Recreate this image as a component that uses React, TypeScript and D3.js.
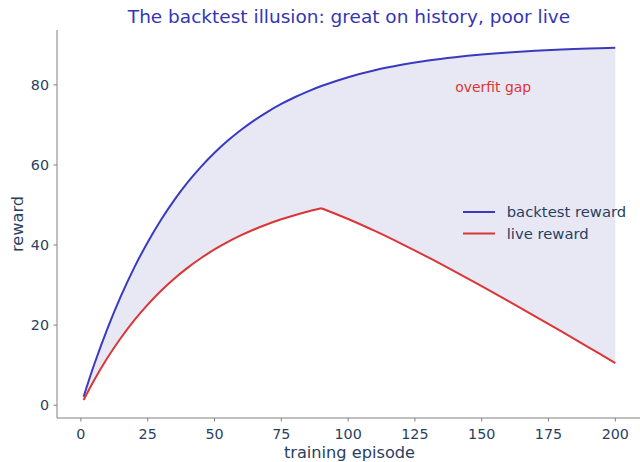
import React from "react";
import * as d3 from "d3";

const episodes = [1, 5, 10, 15, 20, 25, 30, 35, 40, 45, 50, 55, 60, 65, 70, 75, 80, 85, 90, 100, 110, 120, 130, 140, 150, 160, 170, 180, 190, 200];
const backtest = [2.12, 10.22, 19.27, 27.29, 34.42, 40.72, 46.32, 51.28, 55.68, 59.57, 63.03, 66.09, 68.8, 71.21, 73.34, 75.23, 76.91, 78.39, 79.71, 81.92, 83.65, 85.0, 86.08, 86.91, 87.57, 88.09, 88.5, 88.82, 89.07, 89.27];
const live = [1.3, 6.31, 11.89, 16.84, 21.24, 25.12, 28.58, 31.64, 34.35, 36.75, 38.89, 40.78, 42.45, 43.94, 45.25, 46.42, 47.45, 48.37, 49.18, 46.49, 43.51, 40.3, 36.91, 33.37, 29.73, 26.0, 22.2, 18.35, 14.46, 10.53];
const peakEpisode = 90;
const xTicks = [0, 25, 50, 75, 100, 125, 150, 175, 200];
const yTicks = [0, 20, 40, 60, 80];
const seriesNames = ["backtest reward", "live reward"];

const W = 640;
const H = 462;
const BLUE = "#3a3abf";
const RED = "#dc3535";
const TEXT = "#2a3f5f";
const SPINE = "#808080";
const FONT = "DejaVu Sans, sans-serif";

export default function App() {
  const x = d3.scaleLinear().domain([-8.95, 209.95]).range([57, 641.9]);
  const y = d3.scaleLinear().domain([-3.2, 93.7]).range([418, 30]);

  type P = [number, number];
  const bt: P[] = episodes.map((e, i) => [e, backtest[i]]);
  const lv: P[] = episodes.map((e, i) => [e, live[i]]);
  const lvUp = lv.filter((p) => p[0] <= peakEpisode);
  const lvDown = lv.filter((p) => p[0] >= peakEpisode);

  const line = d3
    .line<P>()
    .x((d) => x(d[0]))
    .y((d) => y(d[1]))
    .curve(d3.curveCatmullRom.alpha(0.5));

  const bluePath = line(bt) || "";
  const redPath = (line(lvUp) || "") + (line(lvDown) || "");

  const revDown = (line([...lvDown].reverse()) || "").replace(/^M/, "L");
  const revUp = (line([...lvUp].reverse()) || "").replace(/^M/, "L");
  const fillPath = bluePath + revDown + revUp + "Z";

  const legendX = 463;
  const legendY = [212, 233.5];

  return (
    <svg
      width={W}
      height={H}
      style={{ position: "absolute", left: 0, top: 0 }}
      fontFamily={FONT}
    >
      <rect width={W} height={H} fill="#ffffff" />
      <path d={fillPath} fill="#e8e8f5" stroke="none" />
      <path d={bluePath} fill="none" stroke={BLUE} strokeWidth={2} />
      <path d={redPath} fill="none" stroke={RED} strokeWidth={2} strokeLinejoin="miter" />

      <line x1={57} x2={57} y1={30} y2={418} stroke={SPINE} strokeWidth={1} />
      <line x1={57} x2={W} y1={418} y2={418} stroke={SPINE} strokeWidth={1} />

      {xTicks.map((t) => (
        <g key={"x" + t}>
          <line x1={x(t)} x2={x(t)} y1={418} y2={421.5} stroke={SPINE} />
          <text x={x(t)} y={438.5} textAnchor="middle" fontSize={14.3} fill={TEXT}>
            {t}
          </text>
        </g>
      ))}
      {yTicks.map((t) => (
        <g key={"y" + t}>
          <line x1={53.5} x2={57} y1={y(t)} y2={y(t)} stroke={SPINE} />
          <text x={49} y={y(t)} dy="0.36em" textAnchor="end" fontSize={14.3} fill={TEXT}>
            {t}
          </text>
        </g>
      ))}

      <text x={349.5} y={457.5} textAnchor="middle" fontSize={16.2} fill={TEXT}>
        training episode
      </text>
      <text
        transform={`translate(22.5,224) rotate(-90)`}
        textAnchor="middle"
        fontSize={16.2}
        fill={TEXT}
      >
        reward
      </text>

      <text x={349} y={23} textAnchor="middle" fontSize={18.5} fill="#3535b5">
        The backtest illusion: great on history, poor live
      </text>

      <text x={x(154.3)} y={y(79.4)} dy="0.36em" textAnchor="middle" fontSize={13.9} fill={RED}>
        overfit gap
      </text>

      {seriesNames.map((name, i) => (
        <g key={name}>
          <line
            x1={legendX}
            x2={legendX + 32}
            y1={legendY[i]}
            y2={legendY[i]}
            stroke={i === 0 ? BLUE : RED}
            strokeWidth={2}
          />
          <text x={506.7} y={legendY[i]} dy="0.36em" fontSize={14.8} fill={TEXT}>
            {name}
          </text>
        </g>
      ))}
    </svg>
  );
}
